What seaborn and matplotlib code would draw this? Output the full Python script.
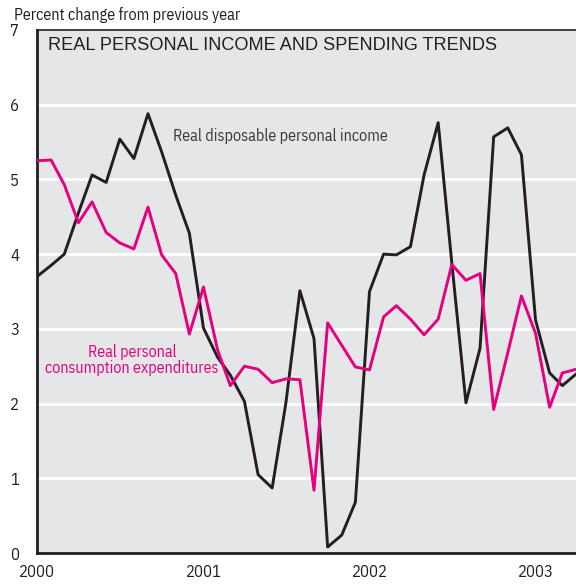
import pandas as pd
import seaborn as sns
from matplotlib import pyplot as plt

# monthly, Jan 2000 .. Apr 2003
months = pd.date_range('2000-01-01', periods=40, freq='MS')
income = [3.70, 3.85, 4.00, 4.55, 5.06, 4.96, 5.54, 5.28, 5.88, 5.37, 4.79, 4.28,
          3.01, 2.62, 2.38, 2.03, 1.05, 0.87, 2.00, 3.51, 2.87, 0.08, 0.24, 0.68,
          3.50, 4.00, 3.99, 4.10, 5.06, 5.76, 3.88, 2.01, 2.74, 5.57, 5.69, 5.33,
          3.12, 2.41, 2.24, 2.40]
spending = [5.25, 5.26, 4.93, 4.42, 4.70, 4.29, 4.15, 4.07, 4.63, 3.99, 3.74, 2.93,
            3.56, 2.72, 2.24, 2.50, 2.46, 2.28, 2.33, 2.32, 0.84, 3.08, 2.78, 2.49,
            2.45, 3.16, 3.31, 3.13, 2.92, 3.13, 3.86, 3.65, 3.74, 1.92, 2.68, 3.44,
            2.94, 1.95, 2.41, 2.46]
year_labels = ['2000', '2001', '2002', '2003']

df = pd.DataFrame({'date': list(months) * 2,
                   'value': income + spending,
                   'series': ['income'] * 40 + ['spending'] * 40})

sns.set_style('white')
narrow = ['Liberation Sans Narrow', 'IBM Plex Sans Condensed', 'DejaVu Sans']
plt.rcParams['font.family'] = narrow

black = '#231f20'
magenta = '#e6007e'

fig = plt.figure(figsize=(5.76, 5.84), dpi=100)
ax = fig.add_axes([37 / 576, 1 - 553 / 584, 1 - 37 / 576, (553 - 30) / 584])
ax.set_facecolor('#e5e6e8')

sns.lineplot(data=df, x='date', y='value', hue='series',
             palette={'income': black, 'spending': magenta},
             linewidth=2.1, legend=False, ax=ax, zorder=3)

ax.set_xlim(pd.Timestamp('2000-01-01'), pd.Timestamp('2003-03-31'))
ax.set_ylim(0, 7)
ax.set_xticks(pd.to_datetime([y + '-01-01' for y in year_labels]))
ax.set_xticklabels(year_labels, fontsize=12, color=black)
ax.set_yticks(range(8))
ax.set_yticklabels([str(i) for i in range(8)], fontsize=12, color=black)
ax.tick_params(axis='both', direction='in', length=11, width=1.8, color=black)
ax.tick_params(axis='y', pad=13)
ax.tick_params(axis='x', pad=8)
for v in range(1, 7):
    ax.axhline(v, color='white', linewidth=2, zorder=1)
ax.set_xlabel('')
ax.set_ylabel('')

for side in ['left', 'bottom']:
    ax.spines[side].set_linewidth(2)
    ax.spines[side].set_color(black)
ax.spines['top'].set_linewidth(1.2)
ax.spines['top'].set_color(black)
ax.spines['right'].set_visible(False)

fig.text(48 / 576, 1 - 45 / 584, 'REAL PERSONAL INCOME AND SPENDING TRENDS',
         fontsize=13.1, color=black, va='center', ha='left',
         family=['Liberation Sans', 'DejaVu Sans'])
fig.text(14 / 576, 1 - 15 / 584, 'Percent change from previous year',
         fontsize=11.6, color=black, va='center', ha='left')
fig.text(173 / 576, 1 - 136 / 584, 'Real disposable personal income',
         fontsize=11.6, color='#3a3a3a', va='center', ha='left')
fig.text(132 / 576, 1 - 360 / 584, 'Real personal\nconsumption expenditures',
         fontsize=11.5, color=magenta, va='center', ha='center', linespacing=1.05)

plt.savefig('out.png', dpi=100)
